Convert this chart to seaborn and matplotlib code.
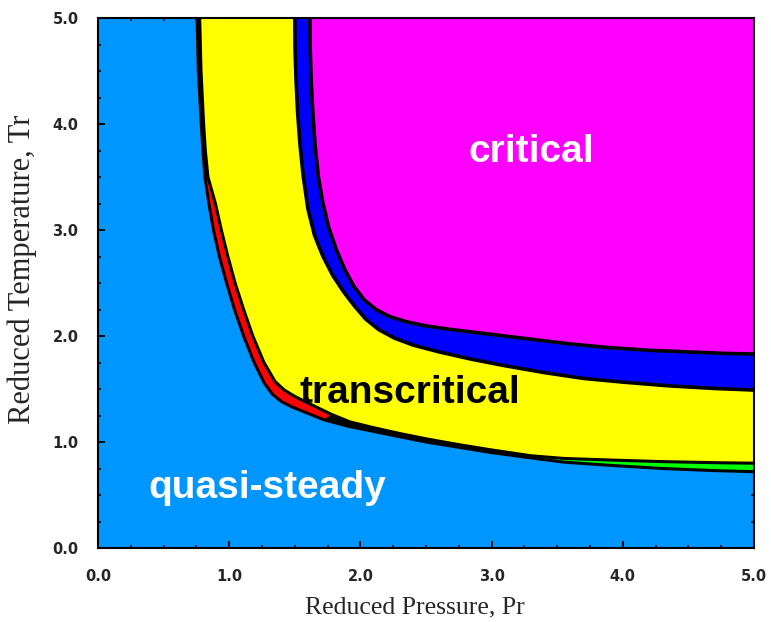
import matplotlib
matplotlib.use("Agg")
import matplotlib.pyplot as plt
import seaborn as sns
from matplotlib.ticker import MultipleLocator, FormatStrFormatter

# ---- boundary curves (Reduced Pressure Pr, Reduced Temperature Tr) ----
# quasi-steady upper boundary
qs_pr = [0.755, 0.765, 0.787, 0.800, 0.815, 0.845, 0.880, 0.925, 0.980, 1.04,
         1.11, 1.19, 1.27, 1.33, 1.40, 1.48, 1.60, 1.72, 1.90, 2.10,
         2.30, 2.50, 2.75, 3.00, 3.30, 3.55, 3.90, 4.30, 4.70, 5.00]
qs_tr = [5.00, 4.50, 4.00, 3.75, 3.50, 3.25, 3.00, 2.75, 2.50, 2.25,
         2.00, 1.75, 1.55, 1.45, 1.38, 1.33, 1.27, 1.21, 1.15, 1.10,
         1.05, 1.00, 0.95, 0.90, 0.85, 0.81, 0.78, 0.75, 0.73, 0.72]
# transcritical lower boundary
tl_pr = [0.775, 0.785, 0.805, 0.818, 0.838, 0.895, 0.94, 0.99, 1.045, 1.11,
         1.18, 1.265, 1.35, 1.42, 1.50, 1.58, 1.68, 1.78, 1.92, 2.10,
         2.30, 2.50, 2.75, 3.00, 3.30, 3.55, 3.90, 4.30, 4.70, 5.00]
tl_tr = [5.00, 4.50, 4.00, 3.75, 3.50, 3.25, 3.00, 2.75, 2.50, 2.25,
         2.00, 1.75, 1.57, 1.49, 1.43, 1.38, 1.32, 1.26, 1.19, 1.135,
         1.08, 1.03, 0.975, 0.925, 0.87, 0.845, 0.83, 0.815, 0.805, 0.80]
# transcritical upper boundary
tu_pr = [1.500, 1.502, 1.510, 1.522, 1.540, 1.565, 1.600, 1.650, 1.715, 1.790,
         1.870, 1.950, 2.040, 2.140, 2.260, 2.400, 2.600, 2.850, 3.100, 3.400,
         3.700, 4.000, 4.350, 4.700, 5.000]
tu_tr = [5.00, 4.70, 4.40, 4.10, 3.80, 3.50, 3.20, 2.95, 2.75, 2.57,
         2.42, 2.29, 2.16, 2.06, 1.98, 1.915, 1.85, 1.78, 1.72, 1.655,
         1.60, 1.565, 1.53, 1.505, 1.49]
# critical lower boundary
cr_pr = [1.615, 1.618, 1.625, 1.638, 1.655, 1.680, 1.715, 1.760, 1.815, 1.880,
         1.950, 2.030, 2.120, 2.220, 2.350, 2.500, 2.700, 3.000, 3.300, 3.600,
         3.900, 4.200, 4.500, 4.800, 5.000]
cr_tr = [5.00, 4.70, 4.40, 4.10, 3.80, 3.50, 3.25, 3.02, 2.82, 2.63,
         2.47, 2.34, 2.25, 2.185, 2.135, 2.095, 2.06, 2.015, 1.97, 1.925,
         1.89, 1.865, 1.85, 1.835, 1.83]

# index ranges of the thin red / green slivers between the first two curves
red_start, red_end = 4, 18
green_start, green_end = 24, 30

region_labels = ["critical", "transcritical", "quasi-steady"]
label_pr = [3.30, 2.38, 1.29]
label_tr = [3.64, 1.37, 0.47]

PR_MAX, TR_MAX = 5.0, 5.0

COL_QS = "#0096FF"
COL_TC = "#FFFF00"
COL_BAND = "#0000FF"
COL_CR = "#FF00FF"
COL_RED = "#FF0000"
COL_GREEN = "#00FF00"

sns.set_style("ticks", {"xtick.direction": "in", "ytick.direction": "in"})
plt.rcParams["font.family"] = ["DejaVu Sans"]

fig = plt.figure(figsize=(7.71, 6.22), dpi=100)
ax = fig.add_axes([98 / 771, 1 - 548 / 622, (754 - 98) / 771, (548 - 18) / 622])
ax.set_facecolor(COL_QS)


def above(px, py):
    return list(px) + [PR_MAX], list(py) + [TR_MAX]


x, y = above(qs_pr, qs_tr)
ax.fill(x, y, color="black", lw=0)

# red sliver
rx = qs_pr[red_start:red_end] + tl_pr[red_start:red_end][::-1]
ry = qs_tr[red_start:red_end] + tl_tr[red_start:red_end][::-1]
ax.fill(rx, ry, color=COL_RED, lw=0)
# green sliver
gx = qs_pr[green_start:green_end] + tl_pr[green_start:green_end][::-1]
gy = qs_tr[green_start:green_end] + tl_tr[green_start:green_end][::-1]
ax.fill(gx, gy, color=COL_GREEN, lw=0)

x, y = above(tl_pr, tl_tr)
ax.fill(x, y, color=COL_TC, lw=0)
x, y = above(tu_pr, tu_tr)
ax.fill(x, y, color=COL_BAND, lw=0)
x, y = above(cr_pr, cr_tr)
ax.fill(x, y, color=COL_CR, lw=0)

for px, py, lw in [(qs_pr, qs_tr, 2.2), (tl_pr, tl_tr, 2.2),
                   (tu_pr, tu_tr, 2.6), (cr_pr, cr_tr, 2.6)]:
    sns.lineplot(x=px, y=py, sort=False, estimator=None, color="black",
                 lw=lw, ax=ax, solid_joinstyle="round")

text_colors = ["white", "black", "white"]
for lab, lx, ly, c in zip(region_labels, label_pr, label_tr, text_colors):
    ax.text(lx, ly, lab, color=c, fontsize=28, fontweight="bold",
            family="Liberation Sans", ha="center", va="baseline")

ax.set_xlim(0, PR_MAX)
ax.set_ylim(0, TR_MAX)
ax.xaxis.set_major_locator(MultipleLocator(1.0))
ax.yaxis.set_major_locator(MultipleLocator(1.0))
ax.xaxis.set_minor_locator(MultipleLocator(0.25))
ax.yaxis.set_minor_locator(MultipleLocator(0.25))
ax.xaxis.set_major_formatter(FormatStrFormatter("%.1f"))
ax.yaxis.set_major_formatter(FormatStrFormatter("%.1f"))
ax.tick_params(which="both", direction="in", top=True, right=True, color="black")
ax.tick_params(which="major", length=5, width=1.3)
ax.tick_params(which="minor", length=2.5, width=1.1)
ax.tick_params(axis="x", which="major", pad=15)
ax.tick_params(axis="y", which="major", pad=14)
for lab in ax.get_xticklabels() + ax.get_yticklabels():
    lab.set_fontweight("bold")
    lab.set_fontsize(10.5)
for s in ax.spines.values():
    s.set_visible(True)
    s.set_color("black")
    s.set_linewidth(1.5)
    s.set_zorder(5)

ax.set_xlabel("Reduced Pressure, Pr", family="Liberation Serif", fontsize=18.5,
              labelpad=9)
ax.set_ylabel("Reduced Temperature, Tr", family="Liberation Serif", fontsize=22,
              labelpad=11)
ax.xaxis.label.set_x(0.483)
ax.yaxis.label.set_y(0.525)
ax.grid(False)

fig.savefig("out.png", dpi=100)
